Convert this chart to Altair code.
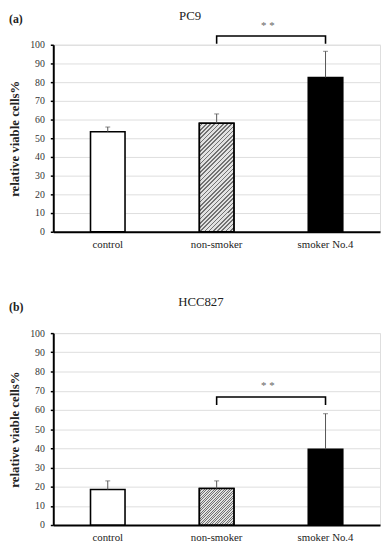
import math
import altair as alt
import pandas as pd

# ---- data ----
categories = ["control", "non-smoker", "smoker No.4"]
pc9_mean = [53.5, 58.0, 82.5]
pc9_upper = [56.0, 63.0, 96.5]
hcc_mean = [18.5, 19.0, 39.5]
hcc_upper = [23.0, 23.0, 58.0]
y_ticks = [0, 10, 20, 30, 40, 50, 60, 70, 80, 90, 100]
panel_titles = ["PC9", "HCC827"]
panel_tags = ["(a)", "(b)"]
sig_pair = ["non-smoker", "smoker No.4"]
sig_label = "* *"
pc9_bracket = [104.7, 100.5]   # bracket top, leg bottom
pc9_star = [110.0]
hcc_bracket = [66.7, 62.5]
hcc_star = [72.5]

FONT = "Liberation Serif"
W = 332
BAR_W = 35


def hatch_gradient(value, H, period=1.15):
    h = value / 100.0 * H
    w = BAR_W
    span = (w + h) / math.sqrt(2)
    n = max(1, int(round(span / period)))
    stops = []
    light, dark = "#e2e2e2", "#727272"
    for i in range(n):
        a = i / n
        b = (i + 0.6) / n
        c = (i + 1) / n
        stops += [alt.GradientStop(offset=a, color=light),
                  alt.GradientStop(offset=b, color=light),
                  alt.GradientStop(offset=b, color=dark),
                  alt.GradientStop(offset=c, color=dark)]
    return alt.Gradient(gradient="linear", stops=stops, x1=0, y1=0, x2=1, y2=h / w)


def panel(means, uppers, bracket, star, title, tag, H, title_x, title_y):
    df = pd.DataFrame({"cat": categories, "mean": means, "upper": uppers})
    xscale = alt.Scale(domain=categories, paddingInner=0.683, paddingOuter=0.342)
    x_axis = alt.Axis(title=None, labelAngle=0, ticks=False, labelPadding=7,
                      labelFontSize=11, labelFont=FONT, labelColor="#222",
                      domainColor="black", domainWidth=2)
    y_axis = alt.Axis(values=y_ticks, title="relative viable cells%",
                      titleFont=FONT, titleFontSize=13, titleFontWeight="bold",
                      titleColor="#222", titlePadding=8,
                      labelFont=FONT, labelFontSize=10, labelColor="#333",
                      labelPadding=6, tickSize=3, tickColor="black", tickWidth=1.5,
                      domainColor="black", domainWidth=2, labelOverlap=False)
    yscale = alt.Scale(domain=[0, 100], nice=False)

    def X():
        return alt.X("cat:N", sort=categories, scale=xscale, axis=x_axis)

    def Y(f):
        return alt.Y(f, scale=yscale, axis=y_axis)

    bars = alt.Chart(df).mark_bar(stroke="black", strokeWidth=1.6).encode(
        x=X(), y=Y("mean:Q"),
        fill=alt.Fill("cat:N", scale=alt.Scale(domain=categories,
                                               range=["white", "#b8b8b8", "black"]),
                      legend=None))
    hatched = alt.Chart(df).transform_filter(alt.datum.cat == "non-smoker").mark_bar(
        fill=hatch_gradient(means[1], H), stroke="black", strokeWidth=1.6).encode(
        x=X(), y=Y("mean:Q"))
    err = alt.Chart(df).mark_rule(color="#555", strokeWidth=1).encode(
        x=X(), y=Y("mean:Q"), y2="upper:Q")
    cap = alt.Chart(df).mark_tick(color="#555", thickness=1, size=5, orient="horizontal").encode(
        x=X(), y=Y("upper:Q"))

    br = pd.DataFrame({
        "cat": [sig_pair[0], sig_pair[0], sig_pair[1], sig_pair[1]],
        "val": [bracket[1], bracket[0], bracket[0], bracket[1]],
        "ord": [0, 1, 2, 3]})
    bracket_line = alt.Chart(br).mark_line(color="black", strokeWidth=1.6).encode(
        x=X(), y=Y("val:Q"), order="ord:Q")
    stars = alt.Chart(pd.DataFrame({"cat": [sig_pair[0]], "val": star, "t": [sig_label]})).mark_text(
        font=FONT, fontSize=11, color="#666", dx=52, baseline="middle").encode(
        x=X(), y=Y("val:Q"), text="t:N")
    tag_text = alt.Chart(pd.DataFrame({"t": [tag]})).mark_text(
        font=FONT, fontSize=12, fontWeight="bold", color="#222", align="left",
        baseline="middle").encode(x=alt.value(-45), y=alt.value(-26), text="t:N")
    title_text = alt.Chart(pd.DataFrame({"t": [title]})).mark_text(
        font=FONT, fontSize=13, color="#222", align="center",
        baseline="middle").encode(x=alt.value(title_x), y=alt.value(title_y), text="t:N")

    return alt.layer(bars, hatched, err, cap, bracket_line, stars, tag_text,
                     title_text).properties(width=W, height=H)


top = panel(pc9_mean, pc9_upper, pc9_bracket, pc9_star, panel_titles[0], panel_tags[0],
            190, 139, -29)
bottom = panel(hcc_mean, hcc_upper, hcc_bracket, hcc_star, panel_titles[1], panel_tags[1],
               195, 150, -32)

chart = alt.vconcat(top, bottom, spacing=45).properties(
    padding={"left": 0, "top": -3, "right": 0, "bottom": 0}
).configure_view(stroke=None).configure_axis(grid=False).configure(background="white")

chart.save("out.html", embed_options={"renderer": "svg", "actions": False})
